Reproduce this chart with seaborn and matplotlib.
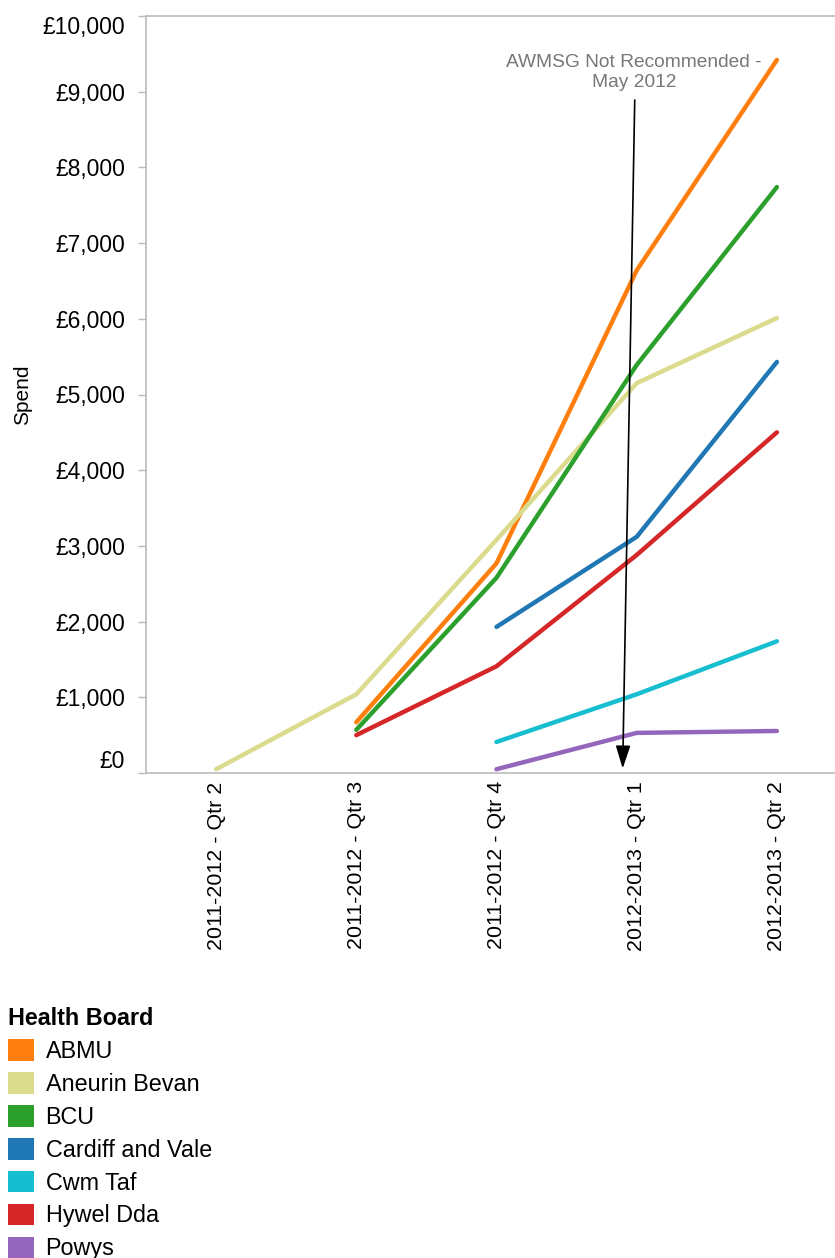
import numpy as np
import pandas as pd
import matplotlib
matplotlib.use("Agg")
import matplotlib.pyplot as plt
import seaborn as sns
from matplotlib.patches import Patch

quarters = ["2011-2012 - Qtr 2", "2011-2012 - Qtr 3", "2011-2012 - Qtr 4",
            "2012-2013 - Qtr 1", "2012-2013 - Qtr 2"]
boards = ["ABMU", "Aneurin Bevan", "BCU", "Cardiff and Vale", "Cwm Taf", "Hywel Dda", "Powys"]
colors = ["#ff7f0e", "#dbdb8d", "#2ca02c", "#1f77b4", "#17becf", "#d62728", "#9467bd"]

# spend per quarter (NaN = no data)
abmu = [np.nan, 670, 2770, 6640, 9420]
aneurin_bevan = [50, 1040, 3080, 5150, 6010]
bcu = [np.nan, 570, 2580, 5390, 7740]
cardiff_vale = [np.nan, np.nan, 1930, 3120, 5430]
cwm_taf = [np.nan, np.nan, 410, 1040, 1740]
hywel_dda = [np.nan, 500, 1410, 2880, 4500]
powys = [np.nan, np.nan, 50, 530, 555]

series = [abmu, aneurin_bevan, bcu, cardiff_vale, cwm_taf, hywel_dda, powys]
rows = []
for b, vals in zip(boards, series):
    for i, v in enumerate(vals):
        if not np.isnan(v):
            rows.append({"board": b, "qi": i, "spend": v})
df = pd.DataFrame(rows)

sns.set_style("white")
plt.rcParams['font.family'] = ['Liberation Sans', 'DejaVu Sans']
plt.rcParams['text.color'] = 'black'
plt.rcParams['axes.labelcolor'] = 'black'
plt.rcParams['xtick.color'] = 'black'
plt.rcParams['ytick.color'] = 'black'

fig = plt.figure(figsize=(8.35, 12.58), dpi=100)
W, H = 835, 1258
ax = fig.add_axes([146 / W, 1 - 773 / H, (847 - 146) / W, (773 - 16) / H])

sns.lineplot(data=df, x="qi", y="spend", hue="board", hue_order=boards,
             palette=dict(zip(boards, colors)), linewidth=3.2, legend=False, ax=ax)

ax.set_xlim(-0.5, 4.5)
ax.set_ylim(0, 10000)
ax.set_xticks(range(5))
ax.set_xticklabels(quarters, rotation=90, fontsize=15.4, va="top")
ax.set_xticks(np.arange(-0.5, 4.5, 1), minor=True)
ax.tick_params(axis="x", which="major", length=0, pad=6)
ax.tick_params(axis="x", which="minor", length=9, color="#bbbbbb", width=1)
yt = np.arange(0, 10001, 1000)
ax.set_yticks(yt)
ax.set_yticklabels(["£{:,}".format(v) for v in yt], fontsize=16.5)
ax.tick_params(axis="y", length=6, color="#bbbbbb", labelcolor="black", width=1, pad=9, left=True)
ax.tick_params(axis="x", labelcolor="black")
labs = ax.get_yticklabels()
labs[0].set_va("bottom")
labs[-1].set_va("top")

ax.set_xlabel("")
ax.set_ylabel("Spend", fontsize=15, color="black")
ax.yaxis.set_label_coords(-114 / 701, 0.5)
for s in ["left", "bottom", "top"]:
    ax.spines[s].set_color("#bbbbbb")
    ax.spines[s].set_linewidth(1.2)
ax.spines["right"].set_visible(False)

ax.annotate("", xy=(2.9, 60), xytext=(2.986, 8890),
            arrowprops=dict(arrowstyle="-|>,head_length=1.4,head_width=0.45",
                            color="black", lw=1.2, shrinkA=0, shrinkB=0))
ax.text(2.98, 9010, "AWMSG Not Recommended -\nMay 2012", ha="center", va="bottom",
        fontsize=13.8, color="#777777", linespacing=1.25)

handles = [Patch(facecolor=c, edgecolor="none") for c in colors]
leg = fig.legend(handles, boards, loc="upper left", bbox_to_anchor=(0.0, 1 - 999 / H),
                 frameon=False, title="Health Board", fontsize=16.8,
                 title_fontproperties={"weight": "bold", "size": 16.8},
                 handlelength=1.1, handleheight=1.05, handletextpad=0.5,
                 labelspacing=0.39, borderaxespad=0.0, borderpad=0.35)
leg._legend_box.align = "left"
for t in leg.get_texts():
    t.set_color("black")
leg.get_title().set_color("black")

fig.savefig("out.png", dpi=100)
